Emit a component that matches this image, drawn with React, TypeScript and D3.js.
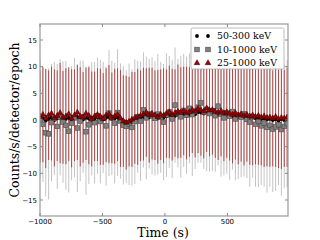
import React from 'react';
import * as d3 from 'd3';

// bin centres (s)
const times = [
  -1000, -977, -954, -931, -908, -885, -862, -839, -816, -793,
  -770, -747, -724, -701, -678, -655, -632, -609, -586, -563,
  -540, -517, -494, -471, -448, -425, -402, -379, -356, -333,
  -310, -287, -264, -241, -218, -195, -172, -149, -126, -103,
  -80, -57, -34, -11, 12, 35, 58, 81, 104, 127,
  150, 173, 196, 219, 242, 265, 288, 311, 334, 357,
  380, 403, 426, 449, 472, 495, 518, 541, 564, 587,
  610, 633, 656, 679, 702, 725, 748, 771, 794, 817,
  840, 863, 886, 909, 932, 955, 978,
];

// 50-300 keV
const lowBand = [
  0.1, 0.3, -0.1, 0.2, 0.4, 0.0, 0.3, 0.5, 0.1, 0.2,
  0.4, 0.0, 0.3, 0.6, 0.2, 0.1, 0.4, 0.3, 0.0, 0.2,
  0.5, 0.3, 0.1, 0.4, 0.6, 0.2, 0.3, 0.5, 0.1, -0.2,
  -0.4, -0.3, -0.1, 0.1, 0.3, 0.4, 0.6, 0.8, 0.5, 0.7,
  0.5, 0.3, 0.6, 0.4, 0.7, 0.9, 0.6, 0.8, 1.0, 0.9,
  1.1, 0.8, 1.0, 1.3, 1.1, 1.5, 1.4, 1.2, 1.6, 1.3,
  1.4, 1.2, 1.0, 1.1, 0.8, 1.0, 0.9, 0.7, 0.8, 0.6,
  0.7, 0.5, 0.6, 0.4, 0.5, 0.3, 0.4, 0.2, 0.3, 0.1,
  0.2, 0.0, 0.1, -0.1, 0.2, 0.0, 0.1,
];

// 10-1000 keV
const wideBand = [
  0.2, -0.8, -2.4, -2.6, -0.5, 0.3, -1.2, 0.5, -0.4, -1.0,
  -2.1, -0.6, 0.4, -1.5, -0.2, 0.6, -2.2, -0.9, 0.2, -0.5,
  0.8, -0.3, 0.5, -1.1, 1.3, 0.4, -0.6, 1.4, -0.2, -1.0,
  -1.2, -0.8, -1.4, -0.3, 0.6, -0.2, 1.9, 0.4, 1.2, 0.8,
  0.3, 1.1, 0.5, -0.4, 0.9, 1.5, 0.2, 2.8, 1.3, 0.6,
  1.8, 0.9, 2.2, 1.0, 1.6, 2.4, 3.2, 1.5, 2.0, 1.2,
  1.7, 0.8, 2.6, 1.1, 0.4, 1.3, 0.7, 1.6, 0.2, 0.9,
  0.5, 1.2, 0.1, -0.4, 0.6, -0.8, -0.3, -1.1, -0.6, -1.4,
  -1.0, -1.7, -1.3, -0.9, -1.8, -1.2, -0.7,
];
const wideErr = [
  11.2, 10.8, 11.9, 12.3, 11.0, 10.6, 11.7, 10.9, 11.4, 12.1,
  11.5, 10.7, 11.2, 12.0, 11.3, 10.5, 11.8, 11.1, 10.6, 11.4,
  10.9, 11.6, 10.4, 11.2, 11.8, 10.7, 11.3, 11.9, 10.8, 11.1,
  10.6, 11.4, 10.9, 11.7, 10.5, 11.2, 10.8, 11.5, 10.3, 11.0,
  10.7, 11.3, 10.4, 10.9, 11.6, 10.5, 11.1, 10.8, 10.2, 11.4,
  10.6, 11.0, 10.3, 11.5, 10.8, 10.4, 11.2, 10.7, 11.6, 10.9,
  11.3, 10.5, 11.1, 11.7, 10.8, 11.4, 11.9, 10.9, 11.5, 12.0,
  11.2, 11.8, 11.0, 12.1, 11.4, 11.7, 12.3, 11.1, 11.9, 12.2,
  11.5, 11.8, 12.0, 11.3, 12.4, 11.6, 11.9,
];

// 25-1000 keV
const midBand = [
  0.6, 1.0, 0.3, 0.9, 1.2, 0.4, 0.8, 1.3, 0.5, 0.7,
  1.1, 0.3, 0.9, 1.4, 0.6, 0.5, 1.2, 0.8, 0.2, 0.7,
  1.0, 0.6, 0.2, 0.9, 1.1, 0.4, 0.7, 1.0, 0.3, -0.2,
  -0.5, -0.3, 0.1, 0.4, 0.6, 0.8, 1.1, 1.4, 0.9, 1.2,
  0.9, 0.6, 1.0, 0.8, 1.2, 1.5, 1.0, 1.3, 1.6, 1.4,
  1.7, 1.3, 1.5, 1.9, 1.6, 2.1, 1.8, 1.6, 2.2, 1.8,
  1.9, 1.6, 1.4, 1.7, 1.3, 1.5, 1.2, 1.0, 1.3, 0.9,
  1.1, 0.8, 1.0, 0.7, 0.9, 0.6, 0.8, 0.5, 0.7, 0.4,
  0.5, 0.3, 0.6, 0.2, 0.4, 0.3, 0.5,
];
const midErr = [
  8.6, 8.9, 9.3, 8.4, 8.8, 9.1, 8.5, 9.4, 8.7, 9.0,
  8.8, 9.2, 8.6, 8.9, 9.3, 8.5, 8.7, 9.1, 8.9, 8.4,
  8.7, 9.0, 8.6, 8.8, 9.2, 8.5, 8.9, 8.7, 9.1, 8.6,
  8.8, 8.4, 8.9, 8.6, 9.0, 8.5, 8.7, 8.3, 8.9, 8.6,
  8.4, 8.8, 8.5, 8.9, 8.3, 8.7, 8.6, 8.2, 8.8, 8.5,
  8.3, 8.7, 8.4, 8.1, 8.6, 8.3, 8.5, 8.8, 8.2, 8.6,
  8.4, 8.7, 8.9, 8.5, 9.0, 8.6, 8.8, 9.1, 8.7, 9.2,
  8.9, 9.3, 8.8, 9.1, 9.4, 8.9, 9.2, 9.0, 9.5, 9.1,
  9.3, 9.0, 9.4, 9.2, 9.6, 9.1, 9.3,
];

const xTicks = [-1000, -500, 0, 500];
const yTicks = [-15, -10, -5, 0, 5, 10, 15];
const legendLabels = ['50-300 keV', '10-1000 keV', '25-1000 keV'];

const W = 320;
const H = 240;
const m = { top: 24, right: 32, bottom: 24, left: 40 };

const fmt = (v: number) => (v < 0 ? '\u2212' + Math.abs(v) : String(v));

function Square({ cx, cy, s }: { cx: number; cy: number; s: number }) {
  return <rect x={cx - s / 2} y={cy - s / 2} width={s} height={s} fill="#808080" stroke="#4a4a4a" strokeWidth={0.6} />;
}

function Tri({ cx, cy, s }: { cx: number; cy: number; s: number }) {
  const p = d3.symbol(d3.symbolTriangle, s)();
  return <path d={p || ''} transform={`translate(${cx},${cy})`} fill="#a00000" stroke="#200" strokeWidth={0.5} />;
}

export default function App() {
  const x = d3.scaleLinear().domain([-1000, 985]).range([m.left, W - m.right]);
  const y = d3.scaleLinear().domain([-18, 18]).range([H - m.bottom, m.top]);
  const x0 = m.left, x1 = W - m.right, y0 = m.top, y1 = H - m.bottom;

  return (
    <svg width={W} height={H} style={{ position: 'absolute', left: 0, top: 0, background: '#fff' }}>
      <defs>
        <clipPath id="plot">
          <rect x={x0} y={y0} width={x1 - x0} height={y1 - y0} />
        </clipPath>
      </defs>
      <g clipPath="url(#plot)">
        {times.map((t, i) => (
          <line key={'ge' + i} x1={x(t)} x2={x(t)} y1={y(wideBand[i] - wideErr[i])} y2={y(wideBand[i] + wideErr[i])}
            stroke="#c4c4c4" strokeWidth={1} />
        ))}
        {times.map((t, i) => (
          <line key={'re' + i} x1={x(t)} x2={x(t)} y1={y(midBand[i] - midErr[i])} y2={y(midBand[i] + midErr[i])}
            stroke="#b04848" strokeWidth={1} />
        ))}
        {times.map((t, i) => (
          <circle key={'b' + i} cx={x(t)} cy={y(lowBand[i])} r={1.9} fill="#000" />
        ))}
        {times.map((t, i) => (
          <Square key={'s' + i} cx={x(t)} cy={y(wideBand[i])} s={4.6} />
        ))}
        {times.map((t, i) => (
          <Tri key={'t' + i} cx={x(t)} cy={y(midBand[i])} s={14} />
        ))}
      </g>

      {/* frame */}
      <rect x={x0} y={y0} width={x1 - x0} height={y1 - y0} fill="none" stroke="#999" strokeWidth={1.2} />
      {xTicks.map((v) => (
        <g key={'xt' + v}>
          <line x1={x(v)} x2={x(v)} y1={y1} y2={y1 - 3} stroke="#888" />
          <line x1={x(v)} x2={x(v)} y1={y0} y2={y0 + 3} stroke="#888" />
          <text x={x(v)} y={y1 + 7.5} textAnchor="middle" fontFamily="DejaVu Sans" fontSize={7} fill="#000">{fmt(v)}</text>
        </g>
      ))}
      {yTicks.map((v) => (
        <g key={'yt' + v}>
          <line x1={x0} x2={x0 + 3} y1={y(v)} y2={y(v)} stroke="#888" />
          <line x1={x1} x2={x1 - 3} y1={y(v)} y2={y(v)} stroke="#888" />
          <text x={x0 - 3} y={y(v) + 2.5} textAnchor="end" fontFamily="DejaVu Sans" fontSize={7} fill="#000">{fmt(v)}</text>
        </g>
      ))}

      {/* legend */}
      <g>
        <rect x={191} y={28} width={93} height={41} rx={1.5} fill="#fff" stroke="#aaa" strokeWidth={0.8} />
        {legendLabels.map((lab, i) => {
          const ly = 36 + i * 13.5;
          return (
            <g key={lab}>
              {[197, 208].map((lx) =>
                i === 0 ? <circle key={lx} cx={lx} cy={ly} r={1.9} fill="#000" />
                  : i === 1 ? <Square key={lx} cx={lx} cy={ly} s={4.6} />
                    : <Tri key={lx} cx={lx} cy={ly} s={14} />
              )}
              <text x={217} y={ly + 3.3} fontFamily="DejaVu Serif" fontSize={9.4} fill="#000">{lab}</text>
            </g>
          );
        })}
      </g>

      {/* axis titles */}
      <text x={163} y={237} textAnchor="middle" fontFamily="DejaVu Serif" fontSize={12.5} fill="#000">Time (s)</text>
      <text transform={`translate(19,${(y0 + y1) / 2}) rotate(-90)`} textAnchor="middle" fontFamily="DejaVu Serif" fontSize={12.5} fill="#000">
        Counts/s/detector/epoch
      </text>
    </svg>
  );
}
